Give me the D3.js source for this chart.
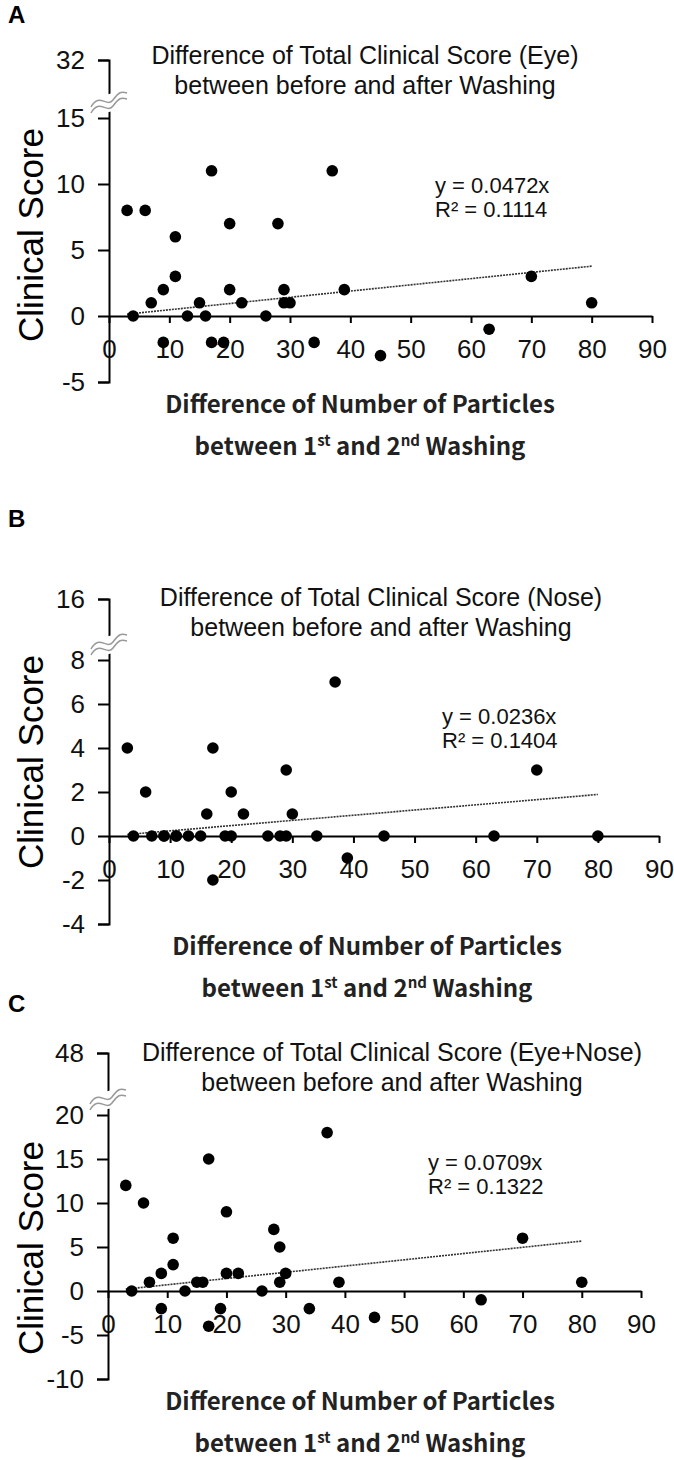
<!DOCTYPE html>
<html>
<head>
<meta charset="utf-8">
<script src="https://cdn.jsdelivr.net/npm/d3@7"></script>
<style>
  body { margin: 0; background: #fff; }
  svg { display: block; }
</style>
</head>
<body>
<svg id="fig" width="674" height="1460"></svg>
<script>
// one entry per subject, same order in every array
const particles  = [3, 4, 6, 7, 9, 9, 11, 11, 13, 15, 16, 17, 17, 19, 20, 20, 22, 26, 28, 29, 29, 30, 34, 37, 39, 45, 63, 70, 80];
const eyeScore   = [8, 0, 8, 1, 2, -2, 6, 3, 0, 1, 0, 11, -2, -2, 7, 2, 1, 0, 7, 2, 1, 1, -2, 11, 2, -3, -1, 3, 1];
const noseScore  = [4, 0, 2, 0, 0, 0, 0, 0, 0, 0, 1, 4, -2, 0, 2, 0, 1, 0, 0, 3, 0, 1, 0, 7, -1, 0, 0, 3, 0];
const totalScore = [12, 0, 10, 1, 2, -2, 6, 3, 0, 1, 1, 15, -4, -2, 9, 2, 2, 0, 7, 5, 1, 2, -2, 18, 1, -3, -1, 6, 1];

const xTicks     = [0, 10, 20, 30, 40, 50, 60, 70, 80, 90];
const eyeTicks   = [-5, 0, 5, 10, 15, 32];
const noseTicks  = [-4, -2, 0, 2, 4, 6, 8, 16];
const totalTicks = [-10, -5, 0, 5, 10, 15, 20, 48];

const slopes   = [0.0472, 0.0236, 0.0709];
const rSquared = ["0.1114", "0.1404", "0.1322"];
const letters  = ["A", "B", "C"];
const regions  = ["Eye", "Nose", "Eye+Nose"];

const svg = d3.select("#fig");
const sans = "'Liberation Sans', Arial, sans-serif";
const jp = "'Noto Sans CJK JP', 'Noto Sans', sans-serif";

// page layout of each panel (y domain: min, top of lower segment, value above the break)
const panels = [
  {scores: eyeScore,   ticks: eyeTicks,   yDom: [-5, 15, 32],  yRange: [382, 118, 60],    xRange: [109, 652],
   letterY: 23,   titleX: 365, titleY: 64,   eqX: 435, eqY: 193,  xTitleX: 360, labelY: 235},
  {scores: noseScore,  ticks: noseTicks,  yDom: [-4, 8, 16],   yRange: [924, 660, 599],   xRange: [109, 659],
   letterY: 527,  titleX: 381, titleY: 606,  eqX: 442, eqY: 724,  xTitleX: 367, labelY: 762},
  {scores: totalScore, ticks: totalTicks, yDom: [-10, 20, 48], yRange: [1379, 1115, 1053], xRange: [108, 641],
   letterY: 1012, titleX: 392, titleY: 1061, eqX: 428, eqY: 1170, xTitleX: 360, labelY: 1248}
];

panels.forEach((p, i) => {
  const g = svg.append("g");
  const x = d3.scaleLinear().domain([0, 90]).range(p.xRange);
  const y = d3.scaleLinear().domain(p.yDom).range(p.yRange);
  const pts = particles.map((v, k) => ({x: v, y: p.scores[k]}));

  g.append("text")
    .attr("x", 8).attr("y", p.letterY)
    .attr("font-family", sans).attr("font-weight", "bold").attr("font-size", 24)
    .text(letters[i]);

  // title
  const title = g.append("text")
    .attr("text-anchor", "middle")
    .attr("font-family", sans).attr("font-size", 25).attr("fill", "#111");
  title.append("tspan").attr("x", p.titleX).attr("y", p.titleY)
    .text(`Difference of Total Clinical Score (${regions[i]})`);
  title.append("tspan").attr("x", p.titleX).attr("dy", 30)
    .text("between before and after Washing");

  // y axis
  const yAxis = g.append("g")
    .attr("transform", `translate(${x(0)},0)`)
    .call(d3.axisLeft(y).tickValues(p.ticks).tickSize(11).tickPadding(13).tickFormat(d => String(d)));
  yAxis.select(".domain").attr("stroke-width", 2);
  yAxis.selectAll(".tick line").attr("stroke-width", 2);
  yAxis.selectAll("text").attr("font-family", sans).attr("font-size", 26).attr("fill", "#111");

  // x axis crosses at 0
  const xAxis = g.append("g")
    .attr("transform", `translate(0,${y(0)})`)
    .call(d3.axisBottom(x).tickValues(xTicks).tickSize(7).tickPadding(17).tickSizeOuter(0));
  xAxis.select(".domain").attr("stroke-width", 2);
  xAxis.selectAll(".tick line").attr("stroke-width", 2);
  xAxis.selectAll("text").attr("font-family", sans).attr("font-size", 26).attr("fill", "#111");

  // axis break
  const by = y(p.yDom[1]) - 15, bx = x(0);
  const wave = (dy) => `M${bx - 18},${by + 7 + dy} C${bx - 10},${by - 8 + dy} ${bx - 2},${by + 8 + dy} ${bx + 4},${by + dy} S${bx + 12},${by - 9 + dy} ${bx + 18},${by - 7 + dy}`;
  g.append("path")
    .attr("d", `M${bx - 4},${by - 8} L${bx + 4},${by - 10} L${bx + 4},${by + 8} L${bx - 4},${by + 10} Z`)
    .attr("fill", "#fff");
  g.append("path").attr("d", wave(-3)).attr("fill", "none").attr("stroke", "#999").attr("stroke-width", 1.5);
  g.append("path").attr("d", wave(3)).attr("fill", "none").attr("stroke", "#999").attr("stroke-width", 1.5);

  // trend line through origin, over the data range
  const ext = d3.extent(particles);
  g.append("line")
    .attr("x1", x(ext[0])).attr("y1", y(slopes[i] * ext[0]))
    .attr("x2", x(ext[1])).attr("y2", y(slopes[i] * ext[1]))
    .attr("stroke", "#333").attr("stroke-width", 1.6).attr("stroke-dasharray", "2,1");

  g.append("g").selectAll("circle")
    .data(pts)
    .join("circle")
    .attr("cx", d => x(d.x))
    .attr("cy", d => y(d.y))
    .attr("r", 5.8)
    .attr("fill", "#000");

  const eq = g.append("text").attr("font-family", sans).attr("font-size", 22).attr("fill", "#111");
  eq.append("tspan").attr("x", p.eqX).attr("y", p.eqY).text(`y = ${slopes[i]}x`);
  eq.append("tspan").attr("x", p.eqX).attr("dy", 24).text(`R² = ${rSquared[i]}`);

  // y axis label
  g.append("text")
    .attr("transform", `translate(43,${p.labelY}) rotate(-90)`)
    .attr("text-anchor", "middle")
    .attr("font-family", sans).attr("font-size", 35)
    .text("Clinical Score");

  // x axis title
  const bottom = p.yRange[0];
  const xt = g.append("text")
    .attr("text-anchor", "middle")
    .attr("font-family", jp).attr("font-weight", "bold").attr("font-size", 24).attr("fill", "#222");
  xt.append("tspan").attr("x", p.xTitleX).attr("y", bottom + 31).text("Difference of Number of Particles");
  const l2 = xt.append("tspan").attr("x", p.xTitleX).attr("y", bottom + 73);
  l2.append("tspan").text("between 1");
  l2.append("tspan").attr("font-size", 15).attr("dy", -9).text("st");
  l2.append("tspan").attr("dy", 9).text(" and 2");
  l2.append("tspan").attr("font-size", 15).attr("dy", -9).text("nd");
  l2.append("tspan").attr("dy", 9).text(" Washing");
});
</script>
</body>
</html>
